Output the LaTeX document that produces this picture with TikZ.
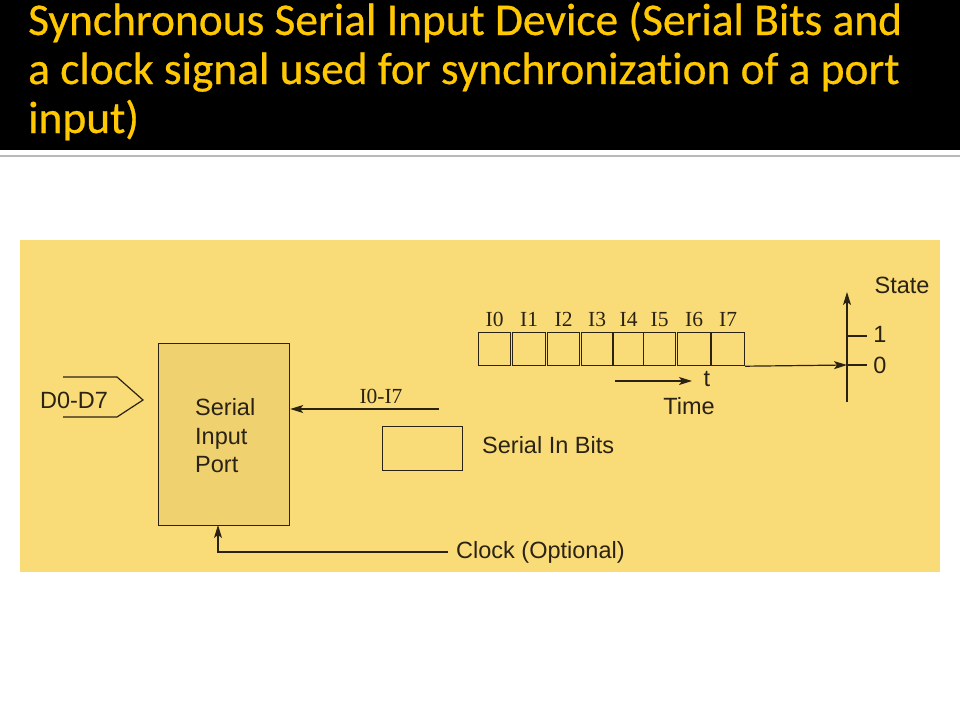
\documentclass[tikz,border=0pt]{standalone}
\usepackage{fontspec}
\setmainfont{Liberation Sans}
\newfontfamily\timesf{Liberation Serif}
\newfontfamily\titlef[Ligatures=NoCommon, FakeBold=0.6]{Carlito}
\usetikzlibrary{arrows.meta}
\definecolor{panel}{HTML}{F9DC78}
\definecolor{boxfill}{HTML}{EFD16F}
\definecolor{ink}{HTML}{2A2214}
\definecolor{gold}{HTML}{FFC800}
\tikzset{
  ln/.style={draw=ink, line width=1.2pt},
  arr/.style={ln, -{Stealth[length=13pt,width=8pt,inset=3pt]}},
  lbl/.style={inner sep=0pt, text=ink, font=\fontsize{23.5}{28}\selectfont},
  tlbl/.style={inner sep=0pt, text=ink, font=\timesf\fontsize{21.5}{25}\selectfont},
  ttl/.style={inner sep=0pt, anchor=base west, text=gold, font=\titlef\fontsize{45.4}{50}\selectfont},
  bitbox/.style={ln, minimum height=33pt, inner sep=0pt, anchor=north west},
}
\begin{document}
\begin{tikzpicture}[x=1pt,y=-1pt]
\useasboundingbox (0,0) rectangle (960,720);
\fill[white] (0,0) rectangle (960,720);
\fill[black] (0,0) rectangle (960,150);
\fill[gray!55] (0,154.5) rectangle (960,157);
\fill[panel] (20,240) rectangle (940,572);
% title
\node[ttl] (t1) at (28,35) {Synchronous Serial Input Device (Serial Bits and};
\node[ttl] (t2) at (28,84) {a clock signal used for synchronization of a port};
\node[ttl] (t3) at (28,133) {input)};
% port box
\node[ln, fill=boxfill, minimum width=131pt, minimum height=182pt, anchor=north west, inner sep=0pt] (port) at (158,343) {};
\node[lbl, anchor=base west] (ser) at (195,415) {Serial};
\node[lbl, anchor=base west] (inp) at (195,444) {Input};
\node[lbl, anchor=base west] (prt) at (195,472) {Port};
% D0-D7 bus
\coordinate (pa) at (63,377);
\coordinate (pb) at (117,377);
\coordinate (pc) at (143,400);
\coordinate (pd) at (117,417);
\coordinate (pe) at (63,417);
\draw[ln, line join=miter] (pa) -- (pb) -- (pc) -- (pd) -- (pe);
\node[lbl] (dbus) at (74,400) {D0-D7};
% serial input arrow
\coordinate (iin) at (439,409);
\draw[arr] (iin) -- (port.east |- iin);
\node[tlbl, anchor=base] (ilbl) at (381,403) {I0-I7};
% legend box
\node[ln, minimum width=80pt, minimum height=44pt, inner sep=0pt, anchor=north west] (sbox) at (382,426) {};
\node[lbl, anchor=west] (sbits) at (482,445) {Serial In Bits};
% clock
\coordinate (clk) at (448,552);
\coordinate (clkin) at (218,525);
\draw[arr] (clk) -| (clkin);
\node[lbl, anchor=west] (clktxt) at (456,552) {Clock (Optional)};
% bits
\node[bitbox, minimum width=32pt] (b0) at (478,332) {};
\node[bitbox, minimum width=33pt] (b1) at (512,332) {};
\node[bitbox, minimum width=32pt] (b2) at (547,332) {};
\node[bitbox, minimum width=31pt] (b3) at (581,332) {};
\node[bitbox, minimum width=30pt] (b4) at (613,332) {};
\node[bitbox, minimum width=32pt] (b5) at (643,332) {};
\node[bitbox, minimum width=33pt] (b6) at (677,332) {};
\node[bitbox, minimum width=33pt] (b7) at (711,332) {};
\foreach \i in {0,...,7} {
  \node[tlbl, anchor=base] (l\i) at ([yshift=6pt]b\i.north) {I\i};
}
% axes
\coordinate (orig) at (847,365);
\coordinate (ytop) at (847,292);
\coordinate (ybot) at (847,402);
\coordinate (t1e) at (867,336);
\coordinate (t0e) at (867,365);
\draw[arr] (b7.south east) -- (orig);
\draw[arr] (ybot) -- (ytop);
\draw[ln] (orig |- t1e) -- (t1e);
\draw[ln] (orig) -- (t0e);
\node[lbl] (one) at (880,334) {1};
\node[lbl] (zero) at (880,365) {0};
\node[lbl] (state) at (902,285) {State};
% time arrow
\coordinate (ta) at (615,381);
\coordinate (tb) at (692,381);
\draw[arr] (ta) -- (tb);
\node[lbl] (tt) at (707,379) {t};
\node[lbl] (time) at (689,406) {Time};
\end{tikzpicture}
\end{document}
